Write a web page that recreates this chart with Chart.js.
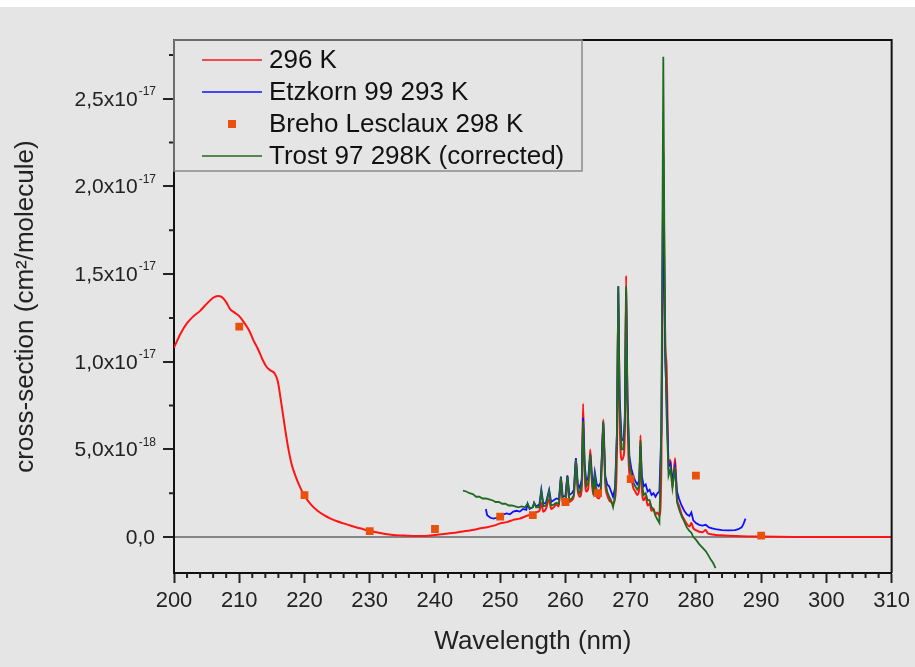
<!DOCTYPE html>
<html>
<head>
<meta charset="utf-8">
<script src="https://cdn.jsdelivr.net/npm/chart.js@4"></script>
<style>
  body { margin: 0; background: #fff; }
  #wrap { position: absolute; top: 7px; left: 0; width: 915px; height: 660px; background: #e5e5e5; }
</style>
</head>
<body>
<div id="wrap"><canvas id="xsChart"></canvas></div>
<script>
// cross-sections in units of 1e-18 cm2/molecule

// 296 K
const redNm = [200, 201, 202, 203, 204, 205, 206, 206.7, 207.3, 208, 208.6, 209.3, 210, 210.8, 211.5, 212.2, 212.9, 213.6, 214.2, 214.8, 215.4, 215.9, 216.3, 216.7, 217.1, 217.5, 218, 218.6, 219.2, 220, 221, 222, 223, 224, 225, 226, 227, 228, 229, 230, 231, 232, 233, 234, 235, 236, 237, 238, 239, 240, 241, 242, 243, 244, 245, 246, 247, 248, 249, 250, 251, 252, 253, 254, 255, 255.5, 256, 256.3, 256.6, 257, 257.5, 257.8, 258.2, 258.6, 259, 259.3, 259.6, 260, 260.3, 260.6, 261, 261.3, 261.6, 261.9, 262.2, 262.5, 262.7, 262.95, 263.2, 263.5, 263.8, 264.1, 264.3, 264.5, 264.8, 265.1, 265.4, 265.8, 266.1, 266.4, 266.7, 267, 267.3, 267.6, 267.9, 268.1, 268.3, 268.6, 268.9, 269.1, 269.3, 269.5, 269.8, 270.1, 270.4, 270.7, 271, 271.3, 271.5, 271.7, 272, 272.3, 272.6, 272.9, 273.2, 273.5, 273.8, 274.1, 274.4, 274.7, 274.9, 275, 275.15, 275.3, 275.5, 275.8, 276.1, 276.4, 276.8, 277.1, 277.4, 277.8, 278.2, 278.6, 279, 279.3, 279.6, 280, 280.5, 281, 281.5, 281.8, 282.5, 283, 284, 285, 287, 290, 295, 300, 305, 310];
const redVal = [10.8, 11.6, 12.2, 12.6, 12.9, 13.3, 13.65, 13.75, 13.7, 13.4, 13.0, 12.8, 12.6, 12.2, 11.8, 11.2, 10.7, 10.1, 9.7, 9.5, 9.35, 8.9, 8.0, 7.0, 6.0, 5.1, 4.2, 3.5, 2.95, 2.35, 1.85, 1.5, 1.25, 1.05, 0.9, 0.78, 0.66, 0.55, 0.45, 0.35, 0.27, 0.2, 0.15, 0.11, 0.09, 0.07, 0.06, 0.06, 0.08, 0.12, 0.16, 0.2, 0.25, 0.3, 0.36, 0.42, 0.5, 0.56, 0.65, 0.78, 0.85, 0.98, 1.05, 1.2, 1.3, 1.42, 1.5, 1.95, 1.45, 1.6, 2.15, 1.6, 1.7, 1.85, 1.75, 3.4, 1.9, 1.95, 3.5, 2.0, 2.1, 2.4, 4.45, 2.6, 2.3, 2.8, 7.6, 3.6, 2.6, 2.8, 5.0, 2.9, 2.4, 3.4, 2.3, 2.2, 2.5, 6.7, 3.1, 2.4, 2.1, 2.0, 1.9, 2.2, 5.0, 13.9, 7.0, 4.4, 4.6, 6.0, 14.9, 7.5, 3.6, 3.3, 2.8, 2.6, 2.4, 2.7, 5.8, 2.9, 2.1, 2.3, 1.8, 1.9, 1.5, 1.6, 1.3, 1.4, 1.2, 4.0, 15, 21.5, 16, 11, 9.8, 4.2, 4.4, 2.8, 4.5, 2.2, 1.8, 1.3, 1.0, 0.75, 0.6, 0.8, 0.5, 0.4, 0.3, 0.28, 0.4, 0.22, 0.15, 0.12, 0.1, 0.08, 0.05, 0.03, 0.01, 0, 0, 0];

// Etzkorn 99 293 K
const blueNm = [247.8, 248, 248.5, 249, 249.5, 250, 250.5, 251, 251.5, 252, 252.5, 253, 253.5, 254, 254.2, 254.5, 255, 255.2, 255.5, 256, 256.3, 256.6, 257, 257.5, 257.8, 258.2, 258.6, 259, 259.3, 259.6, 260, 260.3, 260.6, 261, 261.3, 261.6, 261.9, 262.2, 262.5, 262.7, 262.95, 263.2, 263.5, 263.8, 264.1, 264.3, 264.5, 264.8, 265.1, 265.4, 265.8, 266.1, 266.4, 266.7, 267, 267.3, 267.6, 267.9, 268.1, 268.3, 268.6, 268.9, 269.1, 269.3, 269.5, 269.8, 270.1, 270.4, 270.7, 271, 271.3, 271.5, 271.7, 272, 272.3, 272.6, 272.9, 273.2, 273.5, 273.8, 274.1, 274.4, 274.7, 274.9, 275, 275.15, 275.3, 275.5, 275.8, 276.1, 276.4, 276.8, 277.1, 277.4, 277.8, 278.2, 278.6, 279, 279.3, 279.6, 280, 280.5, 281, 281.5, 282, 282.5, 283, 284, 285, 286, 286.5, 287, 287.3, 287.6];
const blueVal = [1.6, 1.25, 1.1, 1.05, 1.1, 1.2, 1.3, 1.35, 1.3, 1.45, 1.5, 1.45, 1.6, 1.55, 1.9, 1.6, 1.7, 1.95, 1.75, 1.85, 2.7, 1.9, 1.95, 2.7, 2.0, 2.1, 2.2, 2.15, 3.45, 2.3, 2.35, 3.5, 2.4, 2.5, 2.7, 4.5, 3.0, 2.8, 3.3, 6.8, 4.1, 3.2, 3.4, 4.7, 3.3, 3.0, 3.7, 3.0, 2.9, 3.1, 6.5, 3.5, 3.0, 2.9, 2.6, 2.3, 2.8, 6.0, 14.3, 8.0, 5.6, 5.5, 6.8, 14.0, 8.0, 4.6, 3.9, 3.5, 3.2, 3.0, 3.2, 5.2, 3.5, 2.9, 3.0, 2.6, 2.7, 2.4, 2.5, 2.3, 2.5, 2.6, 6, 16, 22.0, 15, 10, 8, 4.0, 4.2, 3.2, 4.0, 2.6, 2.2, 1.8, 1.5, 1.3, 1.2, 1.4, 0.95, 0.8, 0.7, 0.65, 0.7, 0.55, 0.5, 0.45, 0.4, 0.38, 0.4, 0.45, 0.55, 0.75, 1.05];

// Breho Lesclaux 298 K
const brehoNm = [210, 220, 230, 240, 250, 255, 260, 265, 270, 280, 290];
const brehoVal = [12.0, 2.39, 0.34, 0.46, 1.16, 1.25, 2.0, 2.5, 3.3, 3.5, 0.08];

// Trost 97 298K (corrected)
const greenNm = [244.3, 244.8, 245.3, 245.8, 246.3, 246.8, 247.3, 247.8, 248.3, 248.8, 249.3, 249.8, 250.3, 250.8, 251.3, 251.8, 252.3, 252.8, 253.3, 253.8, 254.2, 254.5, 255, 255.2, 255.5, 256, 256.3, 256.6, 257, 257.5, 257.8, 258.2, 258.6, 259, 259.3, 259.6, 260, 260.3, 260.6, 261, 261.3, 261.6, 261.9, 262.2, 262.5, 262.7, 262.95, 263.2, 263.5, 263.8, 264.1, 264.3, 264.5, 264.8, 265.1, 265.4, 265.8, 266.1, 266.4, 266.7, 267, 267.3, 267.6, 267.9, 268.1, 268.3, 268.6, 268.9, 269.1, 269.3, 269.5, 269.8, 270.1, 270.4, 270.7, 271, 271.3, 271.5, 271.7, 272, 272.3, 272.6, 272.9, 273.2, 273.5, 273.8, 274.1, 274.4, 274.7, 274.9, 275, 275.15, 275.3, 275.5, 275.8, 276.1, 276.4, 276.8, 277.1, 277.4, 277.8, 278.2, 278.6, 279, 279.3, 279.6, 280, 280.5, 281, 281.5, 282, 282.3, 282.6, 282.8, 283];
const greenVal = [2.65, 2.6, 2.5, 2.45, 2.3, 2.3, 2.2, 2.2, 2.15, 2.1, 2.0, 2.0, 1.9, 1.9, 1.8, 1.8, 1.75, 1.7, 1.75, 1.7, 1.9, 1.65, 1.7, 1.95, 1.7, 1.7, 2.6, 1.75, 1.8, 2.6, 1.8, 1.85, 1.95, 1.9, 3.4, 2.0, 2.05, 3.45, 2.1, 2.2, 2.4, 4.4, 2.7, 2.5, 3.0, 6.6, 3.8, 2.9, 3.1, 4.7, 3.0, 2.6, 3.5, 2.6, 2.5, 2.7, 6.6, 3.2, 2.6, 2.3, 2.1, 1.7, 2.3, 6.0, 14.3, 7.5, 5.0, 5.0, 6.5, 14.3, 7.8, 4.2, 3.6, 3.1, 2.9, 2.7, 2.9, 5.5, 3.1, 2.4, 2.5, 2.1, 2.1, 1.7, 1.6, 1.2, 1.0, 0.8, 6, 20, 27.4, 18, 11, 7, 3.5, 3.9, 2.8, 4.0, 2.0, 1.6, 1.2, 0.9, 0.55, 0.35, 0.25, 0.0, -0.15, -0.4, -0.6, -0.8, -1.1, -1.3, -1.45, -1.6, -1.77];

// y tick labels
const yTickValues = [0, 5, 10, 15, 20, 25];
const yTickMantissa = ["0,0", "5,0x10", "1,0x10", "1,5x10", "2,0x10", "2,5x10"];
const yTickExponent = ["", "-18", "-17", "-17", "-17", "-17"];

const pts = (xs, ys) => xs.map((x, i) => ({ x: x, y: ys[i] }));

Chart.defaults.font.family = '"Liberation Sans", Arial, sans-serif';
Chart.defaults.color = "#222";

const bg = "#e5e5e5";

// y labels with superscript exponents
const yLabels = {
  id: "yLabels",
  afterDraw(chart) {
    const ctx = chart.ctx;
    const y = chart.scales.y;
    ctx.save();
    ctx.fillStyle = "#222";
    ctx.textAlign = "right";
    ctx.textBaseline = "middle";
    yTickValues.forEach((v, i) => {
      const py = y.getPixelForValue(v);
      const exp = yTickExponent[i];
      let ew = 0;
      if (exp) {
        ctx.font = '12px "Liberation Sans", Arial, sans-serif';
        ew = ctx.measureText(exp).width;
        ctx.fillText(exp, 156, py - 7);
      }
      ctx.font = '21px "Liberation Sans", Arial, sans-serif';
      ctx.fillText(yTickMantissa[i], 156 - ew - 1, py + 1);
    });
    ctx.restore();
  },
};

// minor ticks, frame and legend box
const frame = {
  id: "frame",
  afterDraw(chart) {
    const ctx = chart.ctx;
    const a = chart.chartArea;
    const x = chart.scales.x;
    const y = chart.scales.y;
    ctx.save();
    ctx.strokeStyle = "#222";
    ctx.lineWidth = 2;
    ctx.beginPath();
    for (let v = 202; v < 310; v += 2) {
      if (v % 10 === 0) continue;
      const px = x.getPixelForValue(v);
      ctx.moveTo(px, a.bottom);
      ctx.lineTo(px, a.bottom + 5);
    }
    for (let v = 2.5; v < y.max; v += 5) {
      const py = y.getPixelForValue(v);
      ctx.moveTo(a.left, py);
      ctx.lineTo(a.left - 5, py);
    }
    ctx.stroke();

    ctx.strokeStyle = "#111";
    ctx.beginPath();
    ctx.moveTo(a.left, a.top);
    ctx.lineTo(a.right, a.top);
    ctx.lineTo(a.right, a.bottom);
    ctx.stroke();

    // legend
    const lx = a.left, ly = a.top, lw = 408, lh = 131;
    ctx.fillStyle = bg;
    ctx.fillRect(lx + 1, ly + 1, lw - 1, lh - 1);
    ctx.strokeStyle = "#8a8a8a";
    ctx.lineWidth = 1.5;
    ctx.strokeRect(lx, ly, lw, lh);
    ctx.font = '26px "Liberation Sans", Arial, sans-serif';
    ctx.textAlign = "left";
    ctx.textBaseline = "middle";
    chart.data.datasets.forEach((ds, i) => {
      const cy = ly + 20 + i * 32;
      if (ds.showLine) {
        ctx.strokeStyle = ds.borderColor;
        ctx.lineWidth = 1.5;
        ctx.beginPath();
        ctx.moveTo(lx + 28, cy);
        ctx.lineTo(lx + 88, cy);
        ctx.stroke();
      } else {
        ctx.fillStyle = ds.backgroundColor;
        ctx.fillRect(lx + 54, cy - 4, 8, 8);
      }
      ctx.fillStyle = "#111";
      ctx.fillText(ds.label, lx + 95, cy + 1);
    });
    ctx.restore();
  },
};

const ctx = document.getElementById("xsChart");

new Chart(ctx, {
  type: "scatter",
  data: {
    datasets: [
      {
        label: "296 K",
        data: pts(redNm, redVal),
        showLine: true,
        borderColor: "#ff1414",
        borderWidth: 2,
        pointRadius: 0,
        cubicInterpolationMode: "monotone",
        order: 3,
      },
      {
        label: "Etzkorn 99 293 K",
        data: pts(blueNm, blueVal),
        showLine: true,
        borderColor: "#1010ff",
        borderWidth: 1.8,
        pointRadius: 0,
        tension: 0,
        order: 2,
      },
      {
        label: "Breho Lesclaux 298 K",
        data: pts(brehoNm, brehoVal),
        showLine: false,
        pointStyle: "rect",
        pointRadius: 5.5,
        backgroundColor: "#ea500c",
        borderColor: "#ea500c",
        borderWidth: 0,
        order: 0,
      },
      {
        label: "Trost 97 298K (corrected)",
        data: pts(greenNm, greenVal),
        showLine: true,
        borderColor: "#1f6b1f",
        borderWidth: 1.8,
        pointRadius: 0,
        tension: 0,
        order: 1,
      },
    ],
  },

  options: {
    responsive: true,
    maintainAspectRatio: false,
    animation: false,
    events: [],
    layout: {
      padding: { top: 33, right: 21, bottom: 0, left: 0 },
    },
    plugins: {
      legend: { display: false },
      tooltip: { enabled: false },
    },

    scales: {
      x: {
        type: "linear",
        min: 200,
        max: 310,
        afterFit: (scale) => {
          scale.height = 94;
        },
        ticks: {
          stepSize: 10,
          padding: 5,
          font: { size: 22 },
          color: "#222",
        },
        grid: {
          drawOnChartArea: false,
          tickLength: 10,
          tickColor: "#222",
          tickWidth: 2,
        },
        border: { display: true, color: "#111", width: 2 },
        title: {
          display: true,
          text: "Wavelength (nm)",
          font: { size: 26 },
          color: "#222",
          padding: { top: 0, bottom: 10 },
        },
      },

      y: {
        type: "linear",
        min: -2.05,
        max: 28.35,
        afterFit: (scale) => {
          scale.width = 174;
        },
        ticks: {
          stepSize: 5,
          includeBounds: false,
          display: false,
        },
        grid: {
          drawOnChartArea: true,
          color: (c) => (c.tick && c.tick.value === 0 ? "#858585" : "rgba(0,0,0,0)"),
          lineWidth: 2,
          tickLength: 11,
          tickColor: "#222",
          tickWidth: 2,
        },
        border: { display: true, color: "#111", width: 2 },
        title: {
          display: true,
          text: "cross-section (cm²/molecule)",
          font: { size: 26 },
          color: "#222",
          padding: { top: 10, bottom: 0 },
        },
      },
    },
  },
  plugins: [yLabels, frame],
});
</script>
</body>
</html>
